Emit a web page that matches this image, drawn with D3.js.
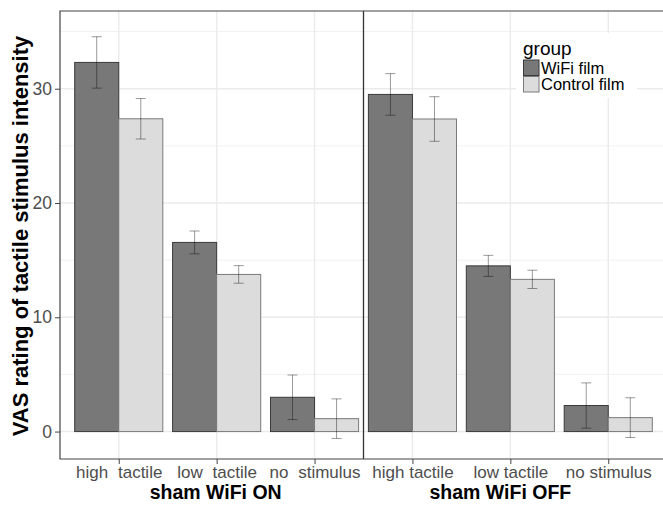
<!DOCTYPE html>
<html>
<head>
<meta charset="utf-8">
<script src="https://cdn.jsdelivr.net/npm/d3@7"></script>
<style>
  body { margin: 0; background: #fff; }
  text { font-family: "Liberation Sans", Arial, sans-serif; }
</style>
</head>
<body>
<div id="chart"></div>
<script>
var width = 663,
    height = 505,
    margin = {top: 11, right: -4, bottom: 46, left: 60};

var conditions = ["sham WiFi ON", "sham WiFi OFF"],
    stimuli = ["high tactile", "low tactile", "no stimulus"],
    groups = ["WiFi film", "Control film"];

// mean rating per condition x stimulus, one array per group
var wifiMean = [32.3, 16.55, 3.0, 29.5, 14.5, 2.28],
    wifiErr = [2.25, 1.0, 1.95, 1.82, 0.92, 1.98],
    controlMean = [27.37, 13.75, 1.13, 27.35, 13.32, 1.22],
    controlErr = [1.77, 0.77, 1.73, 1.95, 0.8, 1.74];

var yTicks = [0, 10, 20, 30],
    yMinor = [5, 15, 25, 35];

var fills = {"WiFi film": "#787878", "Control film": "#dcdcdc"},
    strokes = {"WiFi film": "#3a3a3a", "Control film": "#7a7a7a"};

var cells = [];
conditions.forEach(function(c, ci) {
  stimuli.forEach(function(s, si) {
    var i = ci * 3 + si;
    cells.push({key: c + "|" + s, cond: c, stim: s, group: "WiFi film", value: wifiMean[i], err: wifiErr[i], left: ci == 0});
    cells.push({key: c + "|" + s, cond: c, stim: s, group: "Control film", value: controlMean[i], err: controlErr[i], left: ci == 0});
  });
});

var keys = [];
conditions.forEach(function(c) { stimuli.forEach(function(s) { keys.push(c + "|" + s); }); });

var x = d3.scalePoint()
  .domain(keys)
  .range([margin.left, width - margin.right])
  .padding(0.6);

var step = x.step();

var xg = d3.scaleBand()
  .domain(groups)
  .range([-0.45 * step, 0.45 * step]);

var y = d3.scaleLinear()
  .domain([-2.4, 36.8])
  .range([height - margin.bottom, margin.top]);

var svg = d3.select("#chart").append("svg")
  .attr("width", width)
  .attr("height", height);

var x0 = margin.left, x1 = width - margin.right,
    y0 = height - margin.bottom, y1 = margin.top;

// grid
svg.append("g").selectAll("line")
  .data(yMinor)
  .enter().append("line")
  .attr("x1", x0).attr("x2", x1)
  .attr("y1", y).attr("y2", y)
  .style("stroke", "#f2f2f2").style("stroke-width", 1);

svg.append("g").selectAll("line")
  .data(yTicks)
  .enter().append("line")
  .attr("x1", x0).attr("x2", x1)
  .attr("y1", y).attr("y2", y)
  .style("stroke", "#ebebeb").style("stroke-width", 1.4);

svg.append("g").selectAll("line")
  .data(keys)
  .enter().append("line")
  .attr("x1", x).attr("x2", x)
  .attr("y1", y0).attr("y2", y1)
  .style("stroke", "#ebebeb").style("stroke-width", 1.4);

// bars
svg.append("g").selectAll("rect")
  .data(cells)
  .enter().append("rect")
  .attr("x", function(d) { return x(d.key) + xg(d.group); })
  .attr("y", function(d) { return y(d.value); })
  .attr("width", xg.bandwidth())
  .attr("height", function(d) { return y(0) - y(d.value); })
  .style("fill", function(d) { return fills[d.group]; })
  .style("stroke", function(d) { return strokes[d.group]; })
  .style("stroke-width", 1);

// error bars
var eb = svg.append("g")
  .style("stroke", "#000")
  .style("stroke-opacity", 0.4)
  .style("stroke-width", 1)
  .selectAll("g")
  .data(cells)
  .enter().append("g")
  .attr("transform", function(d) {
    return "translate(" + (x(d.key) + xg(d.group) + xg.bandwidth() / 2) + ",0)";
  });

eb.append("line")
  .attr("x1", 0).attr("x2", 0)
  .attr("y1", function(d) { return y(d.value + d.err); })
  .attr("y2", function(d) { return y(d.value - d.err); });
eb.append("line")
  .attr("x1", -5).attr("x2", 5)
  .attr("y1", function(d) { return y(d.value + d.err); })
  .attr("y2", function(d) { return y(d.value + d.err); });
eb.append("line")
  .attr("x1", -5).attr("x2", 5)
  .attr("y1", function(d) { return y(d.value - d.err); })
  .attr("y2", function(d) { return y(d.value - d.err); });

// divider between conditions
var divX = (x(keys[2]) + x(keys[3])) / 2;
svg.append("line")
  .attr("x1", divX).attr("x2", divX)
  .attr("y1", y0).attr("y2", y1)
  .style("stroke", "#333").style("stroke-width", 1.3);

// panel border
svg.append("path")
  .attr("d", "M" + x1 + "," + y1 + "H" + x0 + "V" + y0 + "H" + x1)
  .style("fill", "none")
  .style("stroke", "#444")
  .style("stroke-width", 1.2);

// axes
var yAxis = svg.append("g")
  .attr("transform", "translate(" + x0 + ",0)")
  .call(d3.axisLeft(y).tickValues(yTicks).tickSize(5).tickPadding(3));
yAxis.select(".domain").remove();
yAxis.selectAll("line").style("stroke", "#444");
yAxis.selectAll("text")
  .style("font-size", "17.5px")
  .style("fill", "#4d4d4d");

var xAxis = svg.append("g")
  .attr("transform", "translate(0," + y0 + ")")
  .call(d3.axisBottom(x).tickSize(5).tickPadding(2)
    .tickFormat(function(k) { return k.split("|")[1]; }));
xAxis.select(".domain").remove();
xAxis.selectAll("line").style("stroke", "#444");
xAxis.selectAll("text")
  .attr("dy", "0.72em")
  .style("font-size", "17px")
  .style("fill", "#4d4d4d")
  .style("word-spacing", function(k, i) { return i < 3 ? "5px" : "0px"; });

// condition titles
svg.append("g").selectAll("text")
  .data(conditions)
  .enter().append("text")
  .attr("x", function(d, i) { return i == 0 ? x(keys[1]) - 1 : x(keys[4]) - 10; })
  .attr("y", 499)
  .attr("text-anchor", "middle")
  .style("font-size", "19.5px")
  .style("font-weight", "bold")
  .style("fill", "#000")
  .text(function(d) { return d; });

svg.append("text")
  .attr("transform", "translate(27.5," + ((y0 + y1) / 2 + 1) + ") rotate(-90)")
  .attr("text-anchor", "middle")
  .style("font-size", "22px")
  .style("font-weight", "bold")
  .style("fill", "#000")
  .text("VAS rating of tactile stimulus intensity");

// legend
var legend = svg.append("g").attr("transform", "translate(523,0)");
legend.append("rect")
  .attr("x", -7).attr("y", 33)
  .attr("width", 121).attr("height", 65)
  .style("fill", "#fff");
legend.append("text")
  .attr("x", 0).attr("y", 55)
  .style("font-size", "19px")
  .style("fill", "#000")
  .text("group");

var li = legend.selectAll(".item")
  .data(groups)
  .enter().append("g")
  .attr("class", "item")
  .attr("transform", function(d, i) { return "translate(0," + (59.5 + i * 16.5) + ")"; });
li.append("rect")
  .attr("x", 0.5).attr("y", 0.5)
  .attr("width", 15.5).attr("height", 15.5)
  .style("fill", function(d) { return fills[d]; })
  .style("stroke", function(d) { return strokes[d]; });
li.append("text")
  .attr("x", 18).attr("y", 14)
  .style("font-size", "16.5px")
  .style("fill", "#000")
  .text(function(d) { return d; });
</script>
</body>
</html>
